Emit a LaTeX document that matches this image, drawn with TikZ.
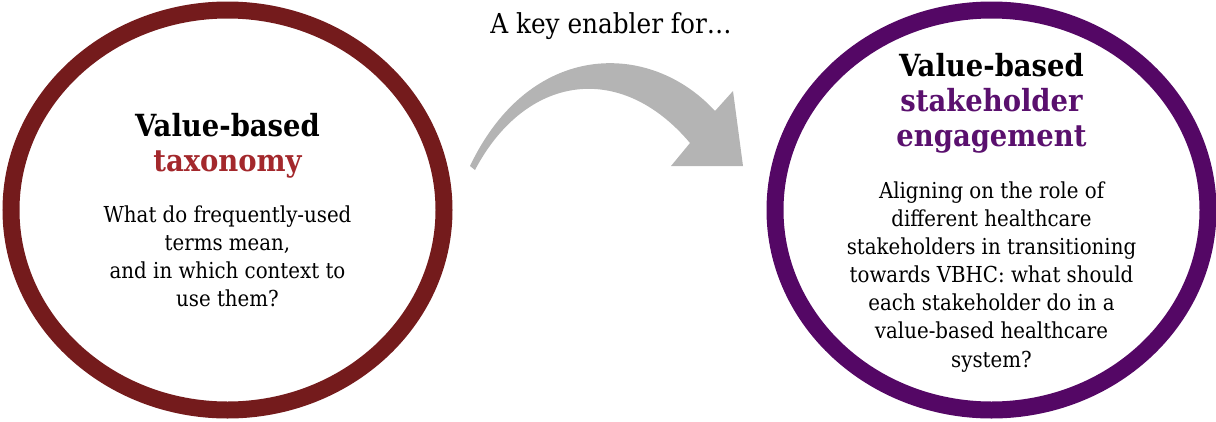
\documentclass[tikz,border=0pt]{standalone}
\usepackage{fontspec}
\setmainfont{DejaVu Serif Condensed}
\usetikzlibrary{shapes.geometric}
\definecolor{ringred}{HTML}{741B1C}
\definecolor{headred}{HTML}{A3282C}
\definecolor{ringpurple}{HTML}{540765}
\definecolor{headpurple}{HTML}{5A106E}
\definecolor{arrowgray}{HTML}{B4B4B4}
\tikzset{
  ring/.style={ellipse, draw, line width=17pt, minimum width=433pt, minimum height=400pt, inner sep=0pt},
  % multi-line nodes: the base anchor sits on the last line's baseline
  headtext/.style={align=center, inner sep=0pt, anchor=base, font=\bfseries\fontsize{30.5}{35}\selectfont},
  bodytext/.style={align=center, inner sep=0pt, anchor=base, font=\fontsize{22}{28.1}\selectfont},
}
\begin{document}
\begin{tikzpicture}[x=1pt,y=-1pt]
\useasboundingbox (0,0) rectangle (1216,421);

% the two rings
\node[ring, draw=ringred] (left) at (227.5,210) {};
\node[ring, draw=ringpurple] (right) at (991.5,210) {};

% headings
\node[headtext] (lefthead) at (227.5,171.7) {Value-based\\\textcolor{headred}{taxonomy}};
\node[headtext] (righthead) at (991.5,146.7) {Value-based\\\textcolor{headpurple}{stakeholder}\\\textcolor{headpurple}{engagement}};

% descriptions
\node[bodytext] (leftbody) at (227.5,306.7) {What do frequently-used\\terms mean,\\and in which context to\\use them?};
\node[bodytext] (rightbody) at (991.5,367) {Aligning on the role of\\different healthcare\\stakeholders in transitioning\\towards VBHC: what should\\each stakeholder do in a\\value-based healthcare\\system?};

% caption above the arrow
\node[font=\fontsize{27.5}{32}\selectfont, anchor=base, inner sep=0pt] (caption) at (611,33) {A key enabler for…};

% curved block arrow
\fill[arrowgray] (470,166) .. controls (530,40) and (650,40) .. (715,111)
  -- (733,91) -- (743,166) -- (671,166) -- (690,143)
  .. controls (620,60) and (525,75) .. (475,170) -- cycle;
\end{tikzpicture}
\end{document}
